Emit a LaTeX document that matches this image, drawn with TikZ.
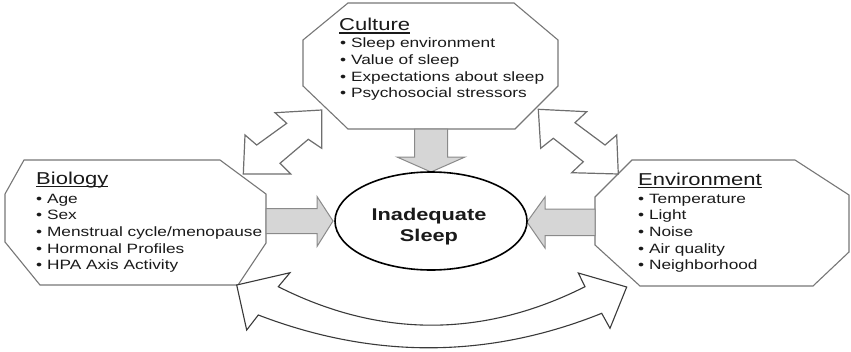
\documentclass[tikz,border=0pt]{standalone}
\usepackage{fontspec}
\setmainfont{Liberation Sans}[FakeStretch=1.28]
\usetikzlibrary{shapes.geometric}
\definecolor{edgegray}{HTML}{777777}
\definecolor{arrowfill}{HTML}{D6D6D6}
\definecolor{arrowedge}{HTML}{8A8A8A}
\definecolor{warrowedge}{HTML}{6E6E6E}
\definecolor{curvedge}{HTML}{3A3A3A}
\definecolor{txt}{HTML}{1A1A1A}
\newsavebox\hdbox
\newcommand\hdul[1]{\sbox\hdbox{#1}\rlap{\rule[-2.8pt]{\wd\hdbox}{1.1pt}}\usebox\hdbox}
\tikzset{
  octa/.style={draw=edgegray, line width=1.1pt, fill=white, line join=miter},
  grayarrow/.style={draw=arrowedge, fill=arrowfill, line width=1pt, line join=miter},
  whitearrow/.style={draw=warrowedge, fill=white, line width=1.2pt, line join=miter},
  curvearrow/.style={draw=curvedge, fill=white, line width=1.1pt, line join=miter},
  hd/.style={anchor=base west, inner sep=0pt, text=txt, font=\fontsize{17.2}{20}\selectfont},
  item/.style={anchor=base west, inner sep=0pt, text=txt, font=\fontsize{13.5}{16.7}\selectfont},
  sleeptxt/.style={anchor=base, inner sep=0pt, text=txt, font=\bfseries\fontsize{17}{21}\selectfont},
}
\begin{document}
\begin{tikzpicture}[x=1pt,y=-1pt]
\useasboundingbox (0,0) rectangle (851,351);
% octagons
\draw[octa] (348,3) -- (514,3) -- (558,40) -- (558,86) -- (515,129) -- (348,129) -- (303,86) -- (303,40) -- cycle;
\draw[octa] (24,160) -- (220,160) -- (266,194) -- (266,243) -- (238,285) -- (40,285) -- (5,242) -- (5,194) -- cycle;
\draw[octa] (632,160) -- (795,160) -- (849,195) -- (849,252) -- (813,286) -- (640,286) -- (595,245) -- (595,197) -- cycle;
% gray block arrows
\draw[grayarrow] (414.5,129) -- (447.5,129) -- (447.5,157) -- (465,157) -- (431,172) -- (397,157) -- (414.5,157) -- cycle;
\draw[grayarrow] (266,208.5) -- (317,208.5) -- (317,196.5) -- (333,221) -- (317,246.5) -- (317,233.5) -- (266,233.5) -- cycle;
\draw[grayarrow] (595,209) -- (545,209) -- (545,197) -- (527,222) -- (545,248) -- (545,235.5) -- (595,235.5) -- cycle;
% white double arrows
\draw[whitearrow] (321.7,110) -- (275,112.7) -- (286.7,123.3) -- (256.7,145) -- (245,135) -- (243.3,174) -- (290.7,174) -- (280,163.3) -- (308.3,139.3) -- (321.7,148.3) -- cycle;
\draw[whitearrow] (538.3,109.3) -- (586.7,111.7) -- (575,122.7) -- (605,145) -- (616.7,135) -- (618.3,174) -- (571.7,172.7) -- (583.3,161.7) -- (553.3,138.3) -- (540.7,148.3) -- cycle;
% curved double arrow
\draw[curvearrow] (236.7,285) -- (290,272.7) -- (278.3,286.7) .. controls (380,338) and (483,338) .. (585,286.7) -- (578.3,273) -- (626.7,287) -- (610,328.3) -- (601.7,313.3) .. controls (488,359) and (373,359) .. (258.3,315) -- (246.7,330) -- cycle;
% central ellipse
\node[ellipse, draw=black, line width=1.6pt, fill=white, minimum width=192pt, minimum height=98pt, inner sep=0pt] (sleep) at (431,221) {};
\node[sleeptxt] (sleepA) at (429,220) {Inadequate};
\node[sleeptxt] (sleepB) at (429,241.7) {Sleep};
% headings
\node[hd] (culture) at (339,30.7) {\hdul{Culture}};
\node[hd] (biology) at (36,184) {\hdul{Biology}};
\node[hd] (environment) at (638,185) {\hdul{Environment}};
% items
\foreach \t [count=\i] in {Sleep environment, Value of sleep, Expectations about sleep, Psychosocial stressors}
  \node[item] (cul\i) at (340,{31.03+16.67*\i}) {• \t};
\foreach \t [count=\i] in {Age, Sex, Menstrual cycle/menopause, Hormonal Profiles, HPA Axis Activity}
  \node[item] (bio\i) at (36,{186.6+16.67*\i}) {• \t};
\foreach \t [count=\i] in {Temperature, Light, Noise, Air quality, Neighborhood}
  \node[item] (env\i) at (638,{186.6+16.67*\i}) {• \t};
\end{tikzpicture}
\end{document}
